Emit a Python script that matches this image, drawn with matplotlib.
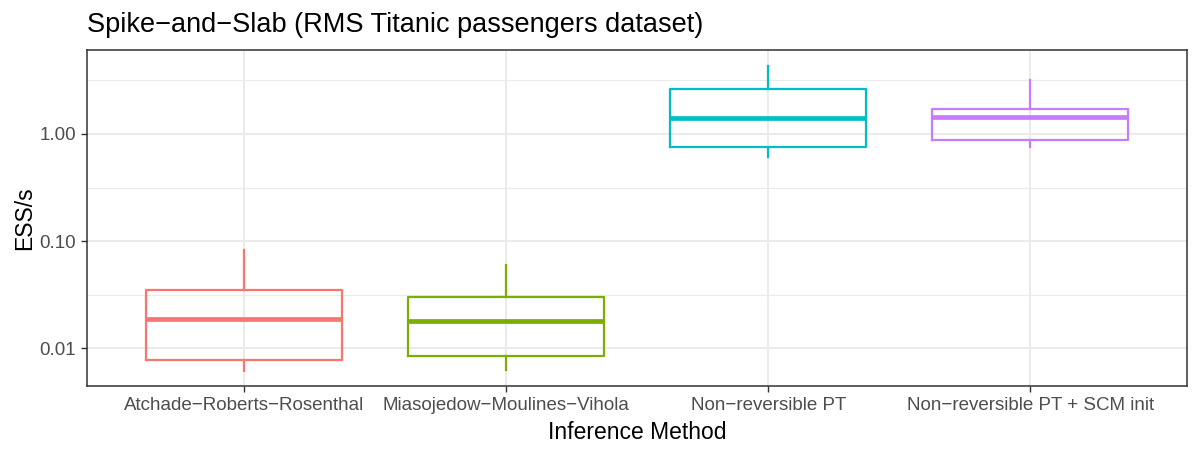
import matplotlib
matplotlib.use("Agg")
import matplotlib.pyplot as plt
import numpy as np

plt.rcParams['font.family'] = ['Liberation Sans', 'DejaVu Sans']

categories = ["Atchade\u2212Roberts\u2212Rosenthal", "Miasojedow\u2212Moulines\u2212Vihola",
              "Non\u2212reversible PT", "Non\u2212reversible PT + SCM init"]
whisker_low = [0.0061, 0.0062, 0.605, 0.762]
q1 = [0.0077, 0.0084, 0.762, 0.885]
median = [0.0188, 0.0179, 1.40, 1.45]
q3 = [0.0348, 0.0300, 2.63, 1.71]
whisker_high = [0.0824, 0.0597, 4.35, 3.20]
colors = ["#F8766D", "#7CAE00", "#00BFC4", "#C77CFF"]

fig = plt.figure(figsize=(12, 4.5), dpi=100)
ax = fig.add_axes([0.0725, 0.142, 0.917, 0.747])

stats = []
for i in range(len(categories)):
    stats.append(dict(med=median[i], q1=q1[i], q3=q3[i],
                      whislo=whisker_low[i], whishi=whisker_high[i], fliers=[]))

positions = np.arange(1, len(categories) + 1)
for i, s in enumerate(stats):
    c = colors[i]
    ax.bxp([s], positions=[positions[i]], widths=0.75, showcaps=False,
           boxprops=dict(color=c, linewidth=1.6),
           whiskerprops=dict(color=c, linewidth=1.6),
           medianprops=dict(color=c, linewidth=3.4, solid_capstyle='butt'),
           manage_ticks=False, zorder=3)

ax.set_yscale('log')
ax.set_ylim(0.00441, 6.1)
ax.set_xlim(0.4, 4.6)
ax.set_yticks([0.01, 0.1, 1.0])
ax.set_yticklabels(["0.01", "0.10", "1.00"])
ax.yaxis.set_minor_locator(matplotlib.ticker.FixedLocator([10**-1.5, 10**-0.5, 10**0.5]))
ax.yaxis.set_minor_formatter(matplotlib.ticker.NullFormatter())
ax.set_xticks(positions)
ax.set_xticklabels(categories)

ax.grid(True, which='major', color='#EBEBEB', linewidth=1.4, zorder=0)
ax.grid(True, which='minor', axis='y', color='#EBEBEB', linewidth=0.8, zorder=0)
ax.set_axisbelow(True)
ax.tick_params(which='minor', length=0)
ax.tick_params(which='major', length=4, width=1, color='#333333',
               labelsize=13.5, labelcolor='#4D4D4D', pad=4)
for sp in ax.spines.values():
    sp.set_color('#333333')
    sp.set_linewidth(1.1)

ax.set_xlabel("Inference Method", fontsize=16.5, color='black', labelpad=5)
ax.set_ylabel("ESS/s", fontsize=16.5, color='black', labelpad=2)
fig.text(0.0725, 0.945, "Spike\u2212and\u2212Slab (RMS Titanic passengers dataset)",
         fontsize=19.5, ha='left', va='center', color='black')

fig.savefig("out.png", dpi=100)
